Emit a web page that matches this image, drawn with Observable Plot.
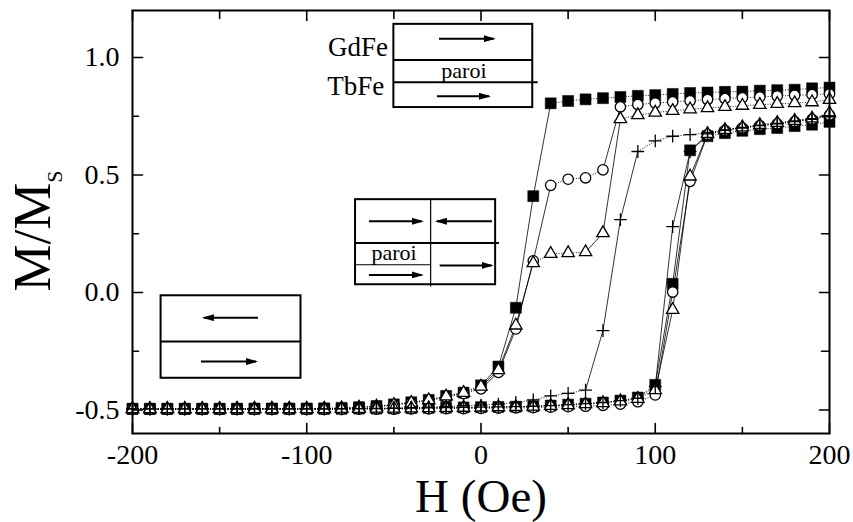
<!DOCTYPE html>
<html>
<head>
<meta charset="utf-8">
<script src="https://cdn.jsdelivr.net/npm/d3@7"></script>
<script src="https://cdn.jsdelivr.net/npm/@observablehq/plot@0.6"></script>
<style>
  body { margin: 0; background: #fff; }
  #chart svg { display: block; }
  #chart svg text, #chart svg tspan { font-family: 'Liberation Serif', 'Times New Roman', Times, serif !important; }
</style>
</head>
<body>
<div id="chart"></div>
<script>
// ---------- data ----------
const H = [-200,-190,-180,-170,-160,-150,-140,-130,-120,-110,
           -100,-90,-80,-70,-60,-50,-40,-30,-20,-10,
           0,10,20,30,40,50,60,70,80,90,
           100,110,120,130,140,150,160,170,180,190,200];

// decreasing-field branches (switch near 20-40 Oe)
const squareDown = [-0.495,-0.495,-0.495,-0.495,-0.495,-0.495,-0.495,-0.494,-0.494,-0.494,
                    -0.494,-0.493,-0.491,-0.488,-0.483,-0.476,-0.467,-0.457,-0.440,-0.426,
                    -0.395,-0.315,-0.065,0.410,0.805,0.815,0.822,0.827,0.832,0.837,
                    0.840,0.845,0.849,0.851,0.854,0.855,0.859,0.861,0.863,0.869,0.872];
const circleDown = [-0.497,-0.497,-0.497,-0.497,-0.497,-0.497,-0.496,-0.496,-0.496,-0.496,
                    -0.496,-0.495,-0.493,-0.490,-0.486,-0.479,-0.470,-0.460,-0.445,-0.430,
                    -0.410,-0.340,-0.155,0.135,0.456,0.482,0.488,0.522,0.790,0.800,
                    0.806,0.811,0.816,0.821,0.825,0.829,0.832,0.836,0.839,0.842,0.845];
const triangleDown = [-0.496,-0.496,-0.496,-0.496,-0.496,-0.496,-0.495,-0.495,-0.495,-0.495,
                      -0.495,-0.494,-0.492,-0.489,-0.485,-0.478,-0.469,-0.458,-0.442,-0.427,
                      -0.400,-0.330,-0.140,0.125,0.165,0.168,0.172,0.253,0.738,0.755,
                      0.766,0.773,0.780,0.785,0.790,0.795,0.799,0.803,0.806,0.810,0.820];
// increasing-field branches (switch near 100-120 Oe)
const squareUp = [-0.495,-0.495,-0.495,-0.495,-0.495,-0.495,-0.495,-0.495,-0.495,-0.495,
                  -0.495,-0.495,-0.495,-0.494,-0.494,-0.493,-0.492,-0.491,-0.490,-0.489,
                  -0.488,-0.487,-0.486,-0.484,-0.481,-0.477,-0.473,-0.468,-0.460,-0.447,
                  -0.393,0.037,0.605,0.665,0.678,0.688,0.695,0.700,0.708,0.714,0.726];
const circleUp = [-0.497,-0.497,-0.497,-0.497,-0.497,-0.497,-0.497,-0.497,-0.497,-0.497,
                  -0.497,-0.497,-0.497,-0.496,-0.496,-0.496,-0.495,-0.495,-0.494,-0.494,
                  -0.493,-0.492,-0.491,-0.490,-0.488,-0.486,-0.484,-0.480,-0.475,-0.465,
                  -0.436,0.002,0.473,0.672,0.690,0.700,0.710,0.718,0.727,0.737,0.755];
const triangleUp = [-0.496,-0.496,-0.496,-0.496,-0.496,-0.496,-0.496,-0.496,-0.496,-0.496,
                    -0.496,-0.496,-0.495,-0.495,-0.494,-0.494,-0.493,-0.492,-0.491,-0.490,
                    -0.489,-0.488,-0.487,-0.485,-0.482,-0.479,-0.475,-0.470,-0.463,-0.452,
                    -0.415,-0.074,0.494,0.675,0.692,0.703,0.713,0.722,0.731,0.741,0.763];
const plusA = [-0.495,-0.495,-0.495,-0.495,-0.495,-0.495,-0.495,-0.495,-0.495,-0.495,
               -0.495,-0.495,-0.494,-0.494,-0.493,-0.492,-0.490,-0.488,-0.485,-0.482,
               -0.479,-0.475,-0.468,-0.457,-0.440,-0.429,-0.415,-0.162,0.310,0.600,
               0.645,0.665,0.672,0.680,0.692,0.703,0.712,0.720,0.730,0.740,0.752];
const plusB = [-0.495,-0.495,-0.495,-0.495,-0.495,-0.495,-0.495,-0.495,-0.495,-0.495,
               -0.495,-0.495,-0.495,-0.494,-0.494,-0.493,-0.492,-0.491,-0.490,-0.489,
               -0.488,-0.487,-0.486,-0.484,-0.481,-0.477,-0.473,-0.468,-0.460,-0.450,
               -0.400,0.280,0.600,0.675,0.690,0.700,0.710,0.718,0.727,0.737,0.752];

const xMajor = [-200, -100, 0, 100, 200];
const xMinor = [-150, -50, 50, 150];
const yMajor = [-0.5, 0.0, 0.5, 1.0];
const yMinor = [-0.25, 0.25, 0.75];

const xTitle = "H (Oe)";
const yTitleMain = "M/M";
const yTitleSub = "S";

// inset sketches (in data units)
const insetBoxes = [
  {x1: -50, x2: 29.7, y1: 0.787, y2: 1.141},
  {x1: -72, x2: 8.4, y1: 0.033, y2: 0.395},
  {x1: -183.6, x2: -103.3, y1: -0.365, y2: -0.014}
];
const insetLinesThick = [
  {x1: -50, x2: 29.7, y1: 0.989, y2: 0.989},
  {x1: -50, x2: 32.5, y1: 0.895, y2: 0.895},
  {x1: -72, x2: 10.3, y1: 0.211, y2: 0.211},
  {x1: -183.6, x2: -103.3, y1: -0.209, y2: -0.209}
];
const insetLinesThin = [
  {x1: -72, x2: -28.9, y1: 0.118, y2: 0.118},
  {x1: -28.9, x2: -28.9, y1: 0.395, y2: 0.026}
];
const insetArrows = [
  {x1: -24.1, x2: 7.3, y1: 1.080, y2: 1.080},
  {x1: -25.3, x2: 4.6, y1: 0.835, y2: 0.835},
  {x1: -64.3, x2: -34.0, y1: 0.303, y2: 0.303},
  {x1: 6.3, x2: -25.3, y1: 0.303, y2: 0.303},
  {x1: -64.3, x2: -34.0, y1: 0.075, y2: 0.075},
  {x1: -23.7, x2: 6.1, y1: 0.115, y2: 0.115},
  {x1: -128, x2: -159, y1: -0.107, y2: -0.107},
  {x1: -160.7, x2: -129.1, y1: -0.294, y2: -0.294}
];
const layerLabels = [
  {x: -53.4, y: 1.005, text: "GdFe"},
  {x: -55.5, y: 0.840, text: "TbFe"}
];
const wallLabels = [
  {x: -9.8, y: 0.914, text: "paroi"},
  {x: -49.9, y: 0.139, text: "paroi"}
];

// ---------- build ----------
const curves = [
  {name: "squareDown", symbol: "square", values: squareDown},
  {name: "squareUp", symbol: "square", values: squareUp},
  {name: "circleDown", symbol: "circle", values: circleDown},
  {name: "circleUp", symbol: "circle", values: circleUp},
  {name: "triangleDown", symbol: "triangle", values: triangleDown},
  {name: "triangleUp", symbol: "triangle", values: triangleUp},
  {name: "plusA", symbol: "plus", values: plusA},
  {name: "plusB", symbol: "plus", values: plusB}
];
const rows = curves.flatMap(c => H.map((h, i) => ({H: h, M: c.values[i], curve: c.name, symbol: c.symbol})));
const bySym = s => rows.filter(d => d.symbol === s);
// consecutive segments of every curve; steep ones drawn solid, flat ones dotted
const segments = curves.flatMap(c => H.slice(1).map((h, i) => ({
  x1: H[i], x2: h, y1: c.values[i], y2: c.values[i + 1],
  steep: Math.abs(c.values[i + 1] - c.values[i]) > 0.06
})));

const tickShape = {draw(ctx, l) { ctx.moveTo(0, 0); ctx.lineTo(0, -l); }};
const ticks = (vals, k, anchor, rotate, len) => Plot.vector(vals, {
  [k]: d => d, frameAnchor: anchor, rotate, length: len, anchor: "start",
  shape: tickShape, stroke: "black", strokeWidth: 1.6
});

const filledHead = (color) => {
  const ns = "http://www.w3.org/2000/svg";
  const m = document.createElementNS(ns, "marker");
  m.setAttribute("viewBox", "0 -3.5 12 7");
  m.setAttribute("refX", "10");
  m.setAttribute("refY", "0");
  m.setAttribute("markerUnits", "userSpaceOnUse");
  m.setAttribute("markerWidth", "12");
  m.setAttribute("markerHeight", "7");
  m.setAttribute("orient", "auto");
  const p = document.createElementNS(ns, "path");
  p.setAttribute("d", "M0,-3.5L12,0L0,3.5Z");
  p.setAttribute("fill", color);
  p.setAttribute("stroke", "none");
  m.appendChild(p);
  return m;
};

const serif = "'Liberation Serif', 'Times New Roman', Times, serif";

const chart = Plot.plot({
  width: 853,
  height: 522,
  marginLeft: 132,
  marginRight: 24,
  marginTop: 10,
  marginBottom: 89,
  style: {fontFamily: serif, background: "white", color: "black"},
  x: {domain: [-200, 200], label: null},
  y: {domain: [-0.6, 1.2], label: null},
  marks: [
    // inset sketches
    Plot.rect(insetBoxes, {x1: "x1", x2: "x2", y1: "y1", y2: "y2", fill: "white", stroke: "black", strokeWidth: 2}),
    Plot.link(insetLinesThick, {x1: "x1", x2: "x2", y1: "y1", y2: "y2", stroke: "black", strokeWidth: 2}),
    Plot.link(insetLinesThin, {x1: "x1", x2: "x2", y1: "y1", y2: "y2", stroke: "black", strokeWidth: 1.2}),
    Plot.link(insetArrows, {x1: "x1", x2: "x2", y1: "y1", y2: "y2", stroke: "black", strokeWidth: 2, markerEnd: filledHead}),
    Plot.text(layerLabels, {x: "x", y: "y", text: "text", textAnchor: "end", fontSize: 27, lineAnchor: "bottom", fill: "black", fontFamily: serif}),
    Plot.text(wallLabels, {x: "x", y: "y", text: "text", textAnchor: "middle", fontSize: 22, lineAnchor: "bottom", fill: "black", fontFamily: serif}),
    // connecting lines
    Plot.link(segments.filter(d => d.steep), {x1: "x1", x2: "x2", y1: "y1", y2: "y2", stroke: "black", strokeWidth: 0.8}),
    Plot.link(segments.filter(d => !d.steep), {x1: "x1", x2: "x2", y1: "y1", y2: "y2", stroke: "black", strokeWidth: 0.9, strokeDasharray: "1,1.6"}),
    // markers
    Plot.dot(bySym("square"), {x: "H", y: "M", symbol: "square", r: 6.2, fill: "black", stroke: "black", strokeWidth: 0.5}),
    Plot.dot(bySym("circle"), {x: "H", y: "M", symbol: "circle", r: 5.2, fill: "white", stroke: "black", strokeWidth: 1.3}),
    Plot.dot(bySym("triangle"), {x: "H", y: "M", symbol: "triangle", r: 4.6, fill: "white", stroke: "black", strokeWidth: 1.3}),
    Plot.dot(bySym("plus"), {x: "H", y: "M", symbol: "plus", r: 4.2, fill: "none", stroke: "black", strokeWidth: 1.3}),
    // frame and inward ticks
    Plot.frame({stroke: "black", strokeWidth: 2}),
    ticks(xMajor, "x", "bottom", 0, 10),
    ticks(xMinor, "x", "bottom", 0, 6),
    ticks(xMajor, "x", "top", 180, 10),
    ticks(xMinor, "x", "top", 180, 8),
    ticks(yMajor, "y", "left", 90, 10),
    ticks(yMinor, "y", "left", 90, 6),
    ticks(yMajor, "y", "right", -90, 10),
    ticks(yMinor, "y", "right", -90, 8),
    // tick labels
    Plot.axisX({ticks: xMajor, tickSize: 0, tickPadding: 10.5, fontSize: 28, fontFamily: serif, tickFormat: d => String(d), label: null}),
    Plot.axisY({ticks: yMajor, tickSize: 0, tickPadding: 13, fontSize: 28, fontFamily: serif, tickFormat: d => d.toFixed(1), label: null}),
    // x title (baseline anchored)
    Plot.text([xTitle], {text: d => d, frameAnchor: "bottom", lineAnchor: "bottom", dy: 78.5, fontSize: 47, fontFamily: serif, fill: "black"})
  ]
});

// y title with subscript
const svg = d3.select(chart);
const yt = svg.append("text")
  .attr("transform", "translate(50,231) rotate(-90)")
  .attr("text-anchor", "middle")
  .attr("font-family", serif)
  .attr("fill", "black");
yt.append("tspan").attr("font-size", 53).text(yTitleMain);
yt.append("tspan").attr("font-size", 22).attr("dy", 12).text(yTitleSub);

document.getElementById("chart").appendChild(chart);
</script>
</body>
</html>
